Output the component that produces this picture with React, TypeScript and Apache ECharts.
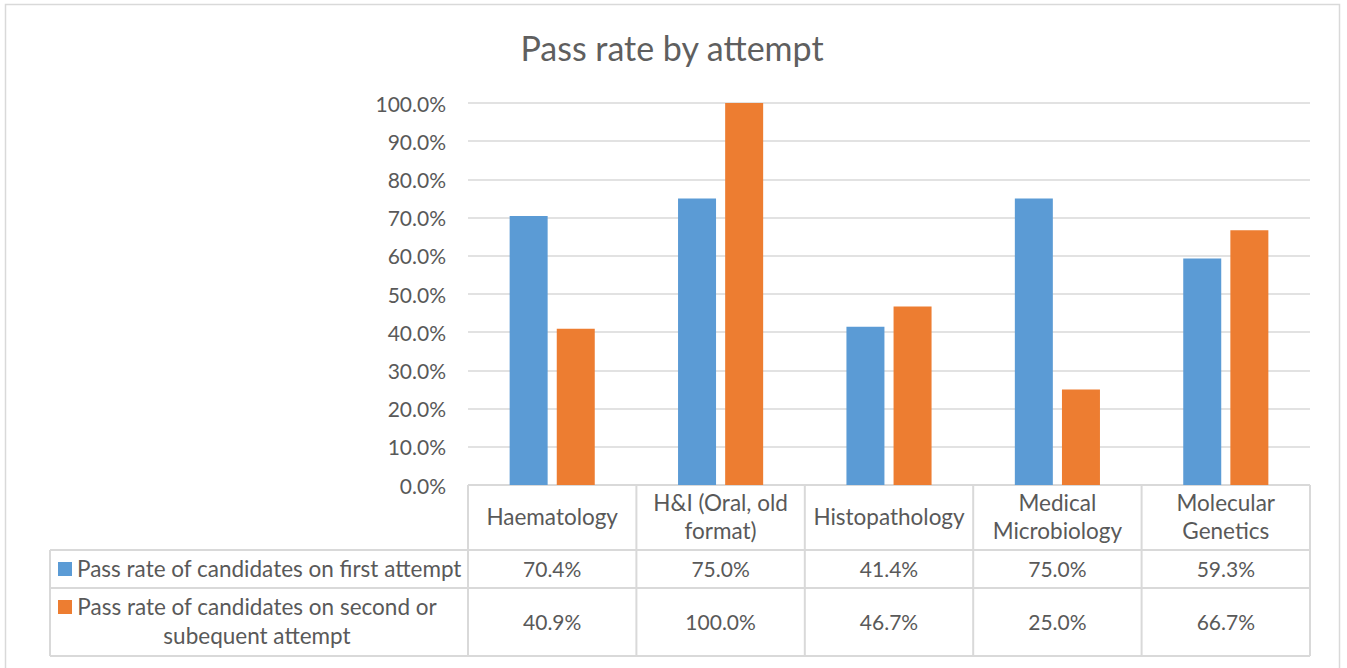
import React, { useEffect, useRef } from "react";
import * as echarts from "echarts";

const title = "Pass rate by attempt";
const categories = ["Haematology", "H&I (Oral, old\nformat)", "Histopathology", "Medical\nMicrobiology", "Molecular\nGenetics"];
const seriesNames = ["Pass rate of candidates on first attempt", "Pass rate of candidates on second or\nsubequent attempt"];
const firstAttempt = [70.4, 75.0, 41.4, 75.0, 59.3];
const secondAttempt = [40.9, 100.0, 46.7, 25.0, 66.7];
const colors = ["#5B9BD5", "#ED7D31"];

const W = 1347;
const H = 668;
const GL = 468;
const GR = 1310;
const GT = 103;
const GB = 485;
const FONT = "Lato";
const TXT = "#595959";
const LINE = "#D9D9D9";

export default function App() {
  const ref = useRef<HTMLDivElement>(null);
  useEffect(() => {
    if (!ref.current) return;
    const chart = echarts.init(ref.current, null, { renderer: "svg" });
    const n = categories.length;
    const cw = (GR - GL) / n;
    const tableLeft = 50;
    const hdrBottom = 550;
    const row1Bottom = 588;
    const tableBottom = 656;
    const graphics: any[] = [];
    // outer border
    graphics.push({ type: "rect", shape: { x: 5.5, y: 4.5, width: 1334, height: 700 }, style: { fill: "none", stroke: LINE, lineWidth: 1.5 }, silent: true });
    // title
    graphics.push({ type: "text", x: 672, y: 47, style: { text: title, font: `34px ${FONT}`, fill: "#5f5f5f", align: "center", verticalAlign: "middle" } });
    const hl = (x1: number, x2: number, y: number) => graphics.push({ type: "line", shape: { x1, y1: y, x2, y2: y }, style: { stroke: LINE, lineWidth: 2 } });
    const vl = (x: number, y1: number, y2: number) => graphics.push({ type: "line", shape: { x1: x, y1, x2: x, y2 }, style: { stroke: LINE, lineWidth: 2 } });
    hl(GL, GR, GB);
    hl(tableLeft, GR, hdrBottom);
    hl(tableLeft, GR, row1Bottom);
    hl(tableLeft, GR, tableBottom);
    vl(tableLeft, hdrBottom, tableBottom);
    for (let i = 0; i <= n; i++) vl(GL + i * cw, GB, tableBottom);
    const rows = [firstAttempt, secondAttempt];
    const rowMid = [(hdrBottom + row1Bottom) / 2, (row1Bottom + tableBottom) / 2];
    categories.forEach((c, i) => {
      const cx = GL + (i + 0.5) * cw;
      graphics.push({ type: "text", x: cx, y: (GB + hdrBottom) / 2 - 1, style: { text: c, font: `22.5px ${FONT}`, fill: TXT, align: "center", verticalAlign: "middle", lineHeight: 28 } });
      rows.forEach((r, k) => {
        graphics.push({ type: "text", x: cx, y: rowMid[k] - 1, style: { text: r[i].toFixed(1) + "%", font: `21px ${FONT}`, fill: TXT, align: "center", verticalAlign: "middle" } });
      });
    });
    // row labels
    graphics.push({ type: "rect", shape: { x: 58, y: 562, width: 14, height: 14 }, style: { fill: colors[0] } });
    graphics.push({ type: "text", x: 77, y: rowMid[0] - 1, style: { text: seriesNames[0], font: `22.5px ${FONT}`, fill: TXT, align: "left", verticalAlign: "middle" } });
    graphics.push({ type: "rect", shape: { x: 58, y: 600, width: 14, height: 14 }, style: { fill: colors[1] } });
    graphics.push({ type: "text", x: 257, y: rowMid[1] - 1.5, style: { text: seriesNames[1], font: `22.5px ${FONT}`, fill: TXT, align: "center", verticalAlign: "middle", lineHeight: 29 } });

    chart.setOption({
      animation: false,
      grid: { left: GL, right: W - GR, top: GT, bottom: H - GB, containLabel: false },
      xAxis: {
        type: "category",
        data: categories,
        axisLine: { show: false },
        axisTick: { show: false },
        axisLabel: { show: false },
      },
      yAxis: {
        type: "value",
        min: 0,
        max: 100,
        interval: 10,
        axisLine: { show: false },
        axisTick: { show: false },
        splitLine: { lineStyle: { color: LINE, width: 1.5 } },
        axisLabel: { formatter: (v: number) => v.toFixed(1) + "%", color: TXT, fontFamily: FONT, fontSize: 21, margin: 22 },
      },
      series: [
        { name: seriesNames[0], type: "bar", data: firstAttempt, barWidth: 38, barGap: "24%", itemStyle: { color: colors[0] } },
        { name: seriesNames[1], type: "bar", data: secondAttempt, barWidth: 38, barGap: "24%", itemStyle: { color: colors[1] } },
      ],
      graphic: graphics,
    });
    return () => chart.dispose();
  }, []);
  return <div ref={ref} style={{ position: "absolute", left: 0, top: 0, width: W, height: H }} />;
}
